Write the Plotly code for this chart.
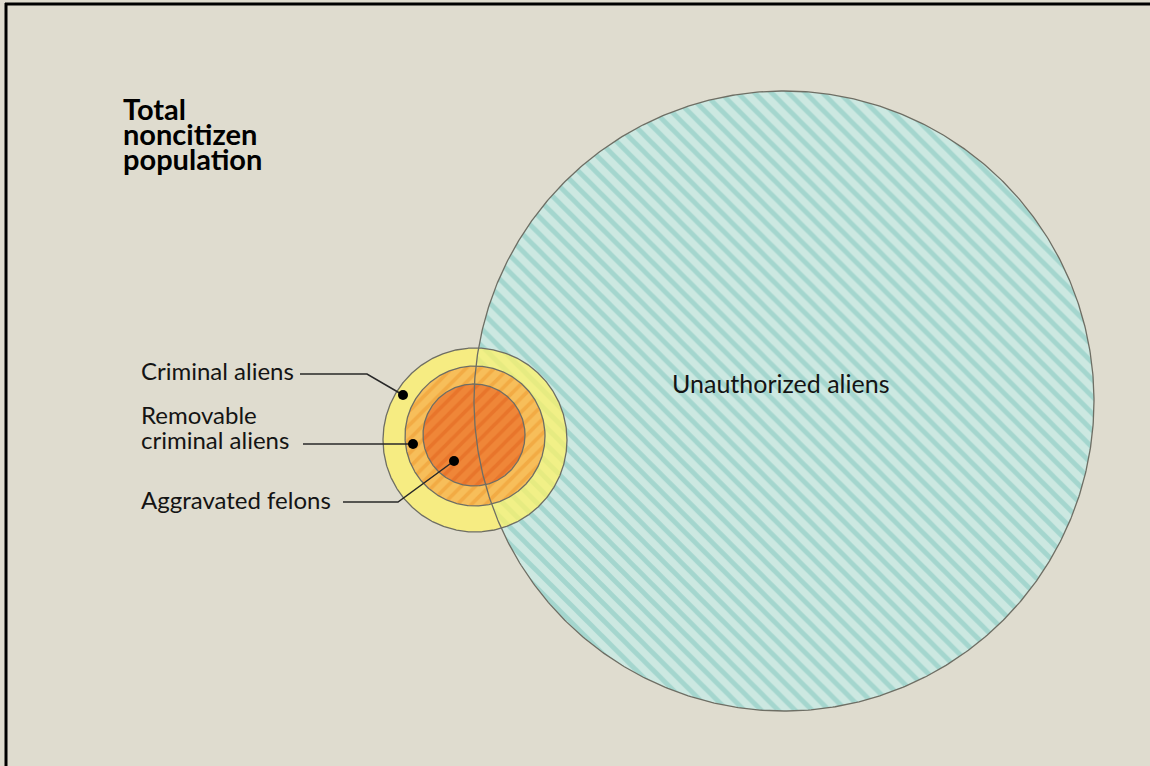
import numpy as np
import plotly.graph_objects as go

# ---- data ----
circle_names = ["Unauthorized aliens", "Criminal aliens", "Removable criminal aliens", "Aggravated felons"]
circle_cx = [784, 475, 475, 474]
circle_cy = [401, 440, 436, 435]
circle_r = [310, 92, 70, 51]

title_lines = ["Total", "noncitizen", "population"]
label_texts = ["Criminal aliens", "Removable", "criminal aliens", "Aggravated felons"]

# ---- styles / positions ----
BG = "rgb(223,220,207)"
OUTLINE = "rgb(110,110,100)"
W, H = 1150, 766
FONT = "Lato"

fig = go.Figure()
theta = np.linspace(0, 2 * np.pi, 721)


def circ(i):
    return (circle_cx[i] + circle_r[i] * np.cos(theta),
            circle_cy[i] + circle_r[i] * np.sin(theta))


# big hatched circle
x, y = circ(0)
fig.add_trace(go.Scatter(x=x, y=y, mode="lines", fill="toself",
                         fillcolor="rgb(204,232,225)",
                         fillpattern=dict(shape="\\", bgcolor="rgb(204,232,225)",
                                          fgcolor="rgb(124,195,187)", size=12, solidity=0.4),
                         line=dict(width=0), hoverinfo="skip", showlegend=False))
# yellow circle (semi transparent)
x, y = circ(1)
fig.add_trace(go.Scatter(x=x, y=y, mode="lines", fill="toself",
                         fillcolor="rgba(255,242,100,0.72)",
                         line=dict(width=0), hoverinfo="skip", showlegend=False))
# middle orange ring
x, y = circ(2)
fig.add_trace(go.Scatter(x=x, y=y, mode="lines", fill="toself",
                         fillcolor="rgb(247,188,88)",
                         fillpattern=dict(shape="/", bgcolor="rgb(247,190,90)",
                                          fgcolor="rgb(238,152,46)", size=10, solidity=0.38),
                         line=dict(width=0), hoverinfo="skip", showlegend=False))
# inner orange circle
x, y = circ(3)
fig.add_trace(go.Scatter(x=x, y=y, mode="lines", fill="toself",
                         fillcolor="rgb(238,132,55)",
                         fillpattern=dict(shape="/", bgcolor="rgb(239,134,56)",
                                          fgcolor="rgb(226,100,30)", size=10, solidity=0.38),
                         line=dict(width=0), hoverinfo="skip", showlegend=False))
# outlines
for i in range(4):
    x, y = circ(i)
    fig.add_trace(go.Scatter(x=x, y=y, mode="lines",
                             line=dict(color=OUTLINE, width=1.3),
                             hoverinfo="skip", showlegend=False))

# leader lines
leaders = [
    ([300, 367, 403], [374, 374, 395]),
    ([303, 413], [444, 444]),
    ([343, 398, 454], [502, 502, 461]),
]
for lx, ly in leaders:
    fig.add_trace(go.Scatter(x=lx, y=ly, mode="lines",
                             line=dict(color="rgb(40,40,40)", width=1.5),
                             hoverinfo="skip", showlegend=False))
fig.add_trace(go.Scatter(x=[403, 413, 454], y=[395, 444, 461], mode="markers",
                         marker=dict(color="black", size=10),
                         hoverinfo="skip", showlegend=False))

ann = []
for t, yy in zip(title_lines, [108, 133, 158]):
    ann.append(dict(x=121, y=yy, text=f"<b>{t}</b>", xanchor="left", yanchor="middle",
                    showarrow=False, font=dict(family=FONT, size=29, color="black")))
for t, yy in zip(label_texts, [370, 414, 439, 499]):
    ann.append(dict(x=139, y=yy, text=t, xanchor="left", yanchor="middle",
                    showarrow=False, font=dict(family=FONT, size=24, color="rgb(20,20,20)")))
ann.append(dict(x=780, y=383, text=circle_names[0], xanchor="center", yanchor="middle",
                showarrow=False, font=dict(family=FONT, size=25, color="rgb(20,20,20)")))

shapes = [
    dict(type="line", xref="x", yref="y", x0=6, x1=6, y0=3, y1=H, line=dict(color="black", width=3)),
    dict(type="line", xref="x", yref="y", x0=5, x1=W, y0=4, y1=4, line=dict(color="black", width=3)),
]

fig.update_layout(
    width=W, height=H, margin=dict(l=0, r=0, t=0, b=0),
    paper_bgcolor=BG, plot_bgcolor=BG,
    xaxis=dict(range=[0, W], visible=False, fixedrange=True),
    yaxis=dict(range=[H, 0], visible=False, fixedrange=True),
    annotations=ann, shapes=shapes, showlegend=False,
)

fig.write_html("out.html", config={"displayModeBar": False},
               post_script="document.body.style.margin='0';document.body.style.overflow='hidden';")
